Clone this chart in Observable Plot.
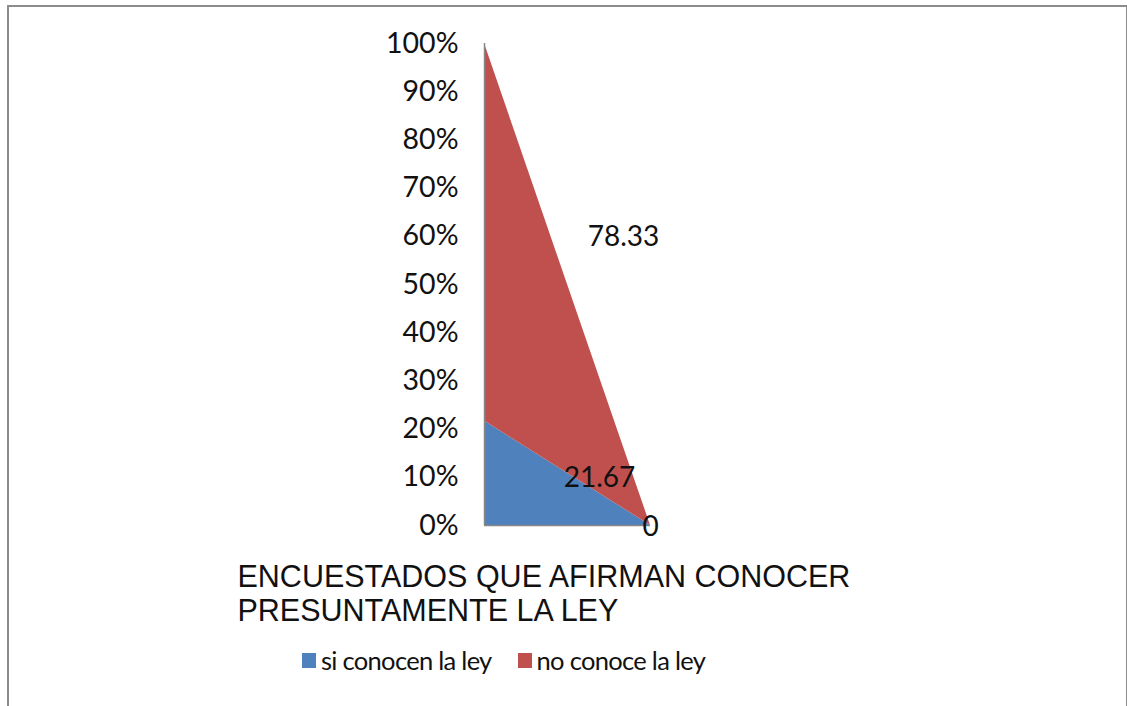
<!DOCTYPE html>
<html>
<head>
<meta charset="utf-8">
<script src="https://cdn.jsdelivr.net/npm/d3@7"></script>
<script src="https://cdn.jsdelivr.net/npm/@observablehq/plot@0.6"></script>
<style>
  html, body { margin: 0; padding: 0; background: #fff; }
  body { width: 1127px; height: 706px; overflow: hidden; position: relative; }
  #frame {
    position: absolute; left: 7px; top: 5px; width: 1121px; height: 740px;
    border: 2px solid #8c8c8c; box-sizing: border-box;
  }
  #chart { position: absolute; left: 0; top: 0; }
  #legend {
    position: absolute; left: 302px; top: 645px;
    display: flex; gap: 26px; align-items: center;
    font-family: Lato, "Open Sans", sans-serif; font-size: 25.5px; letter-spacing: -0.7px; color: #111;
  }
  #legend .item { display: flex; align-items: center; gap: 5px; }
  #legend .sw { width: 14px; height: 15px; display: inline-block; }
</style>
</head>
<body>
<div id="frame"></div>
<div id="chart"></div>
<div id="legend"></div>
<script>
// Survey: respondents who say they know the law
const categories = ["ENCUESTADOS QUE AFIRMAN CONOCER\nPRESUNTAMENTE LA LEY", ""];
const seriesNames = ["si conocen la ley", "no conoce la ley"];
const siConocen = [21.67, 0];
const noConoce = [78.33, 0];
const seriesColors = ["#4F81BD", "#C0504D"];
const yTicks = [0, 10, 20, 30, 40, 50, 60, 70, 80, 90, 100];

const seriesValues = [siConocen, noConoce];
const rows = [];
seriesNames.forEach((s, k) => {
  categories.forEach((c, i) => rows.push({i, category: c, series: s, value: seriesValues[k][i]}));
});

const stackOpts = {x: "i", y: "value", z: "series", order: seriesNames};
const labelStyle = {text: d => String(d.value), fontSize: 28, fill: "#111"};

// value labels: stack first, then keep the wanted point
const valueLabel = (test, extra) =>
  Plot.text(rows, Plot.filter(test, Plot.stackY({...stackOpts, ...labelStyle, ...extra})));

const chart = Plot.plot({
  width: 1127,
  height: 706,
  marginLeft: 484,
  marginRight: 477,
  marginTop: 43,
  marginBottom: 181,
  style: {fontFamily: "Lato, 'Open Sans', sans-serif", color: "#111", background: "transparent"},
  x: {domain: [0, 1], axis: null},
  y: {domain: [0, 100], axis: null},
  color: {domain: seriesNames, range: seriesColors},
  marks: [
    Plot.areaY(rows, {...stackOpts, fill: "series"}),
    Plot.ruleX([0], {stroke: "#888", strokeWidth: 1.5}),
    Plot.ruleY([0], {stroke: "#888", strokeWidth: 1.5}),
    Plot.axisY({
      ticks: yTicks, tickSize: 0, tickPadding: 26, label: null,
      tickFormat: d => d + "%", fontSize: 28.5, fill: "#111"
    }),
    Plot.axisX({
      ticks: [0], tickSize: 0, tickPadding: 0, label: null,
      tickFormat: i => categories[i],
      textAnchor: "start", dx: -247, dy: 38,
      fontSize: 30.5, lineHeight: 1.1,
      fontFamily: "'Liberation Sans', Arial, sans-serif", fill: "#111"
    }),
    valueLabel(d => d.i === 0 && d.series === seriesNames[1], {dx: 139, dy: 5}),
    valueLabel(d => d.i === 0 && d.series === seriesNames[0], {dx: 115, dy: 5}),
    valueLabel(d => d.i === 1 && d.series === seriesNames[1], {dy: 2})
  ]
});
document.getElementById("chart").append(chart);

// Legend swatches drawn from the chart's color scale
const color = chart.scale("color");
const legend = document.getElementById("legend");
color.domain.forEach((name, k) => {
  const item = document.createElement("span");
  item.className = "item";
  const sw = document.createElement("span");
  sw.className = "sw";
  sw.style.background = color.range[k];
  const label = document.createElement("span");
  label.textContent = name;
  item.append(sw, label);
  legend.append(item);
});
</script>
</body>
</html>
